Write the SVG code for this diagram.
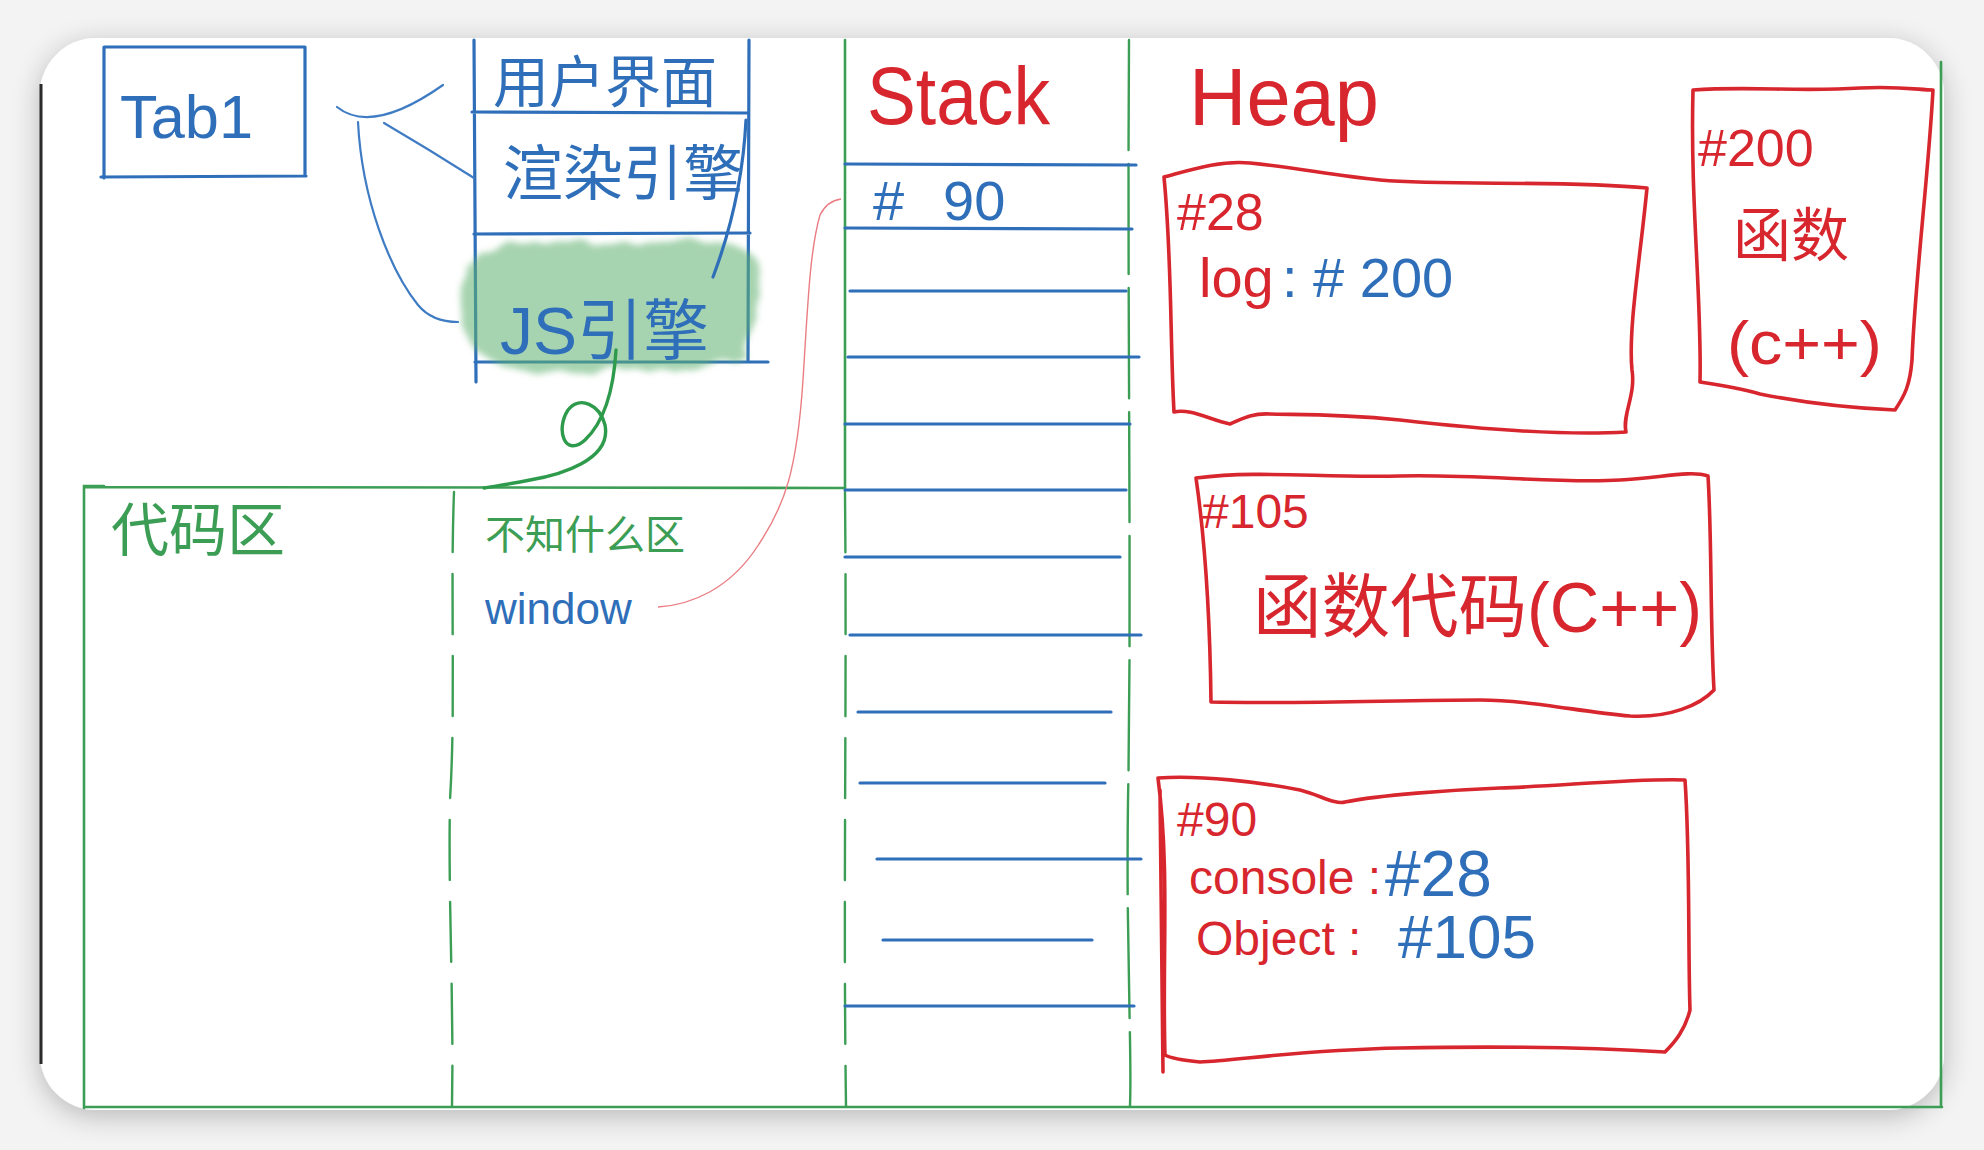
<svg xmlns="http://www.w3.org/2000/svg" width="1984" height="1150" viewBox="0 0 1984 1150">
<defs>
<style>
.b{fill:none;stroke:#2f6fba;stroke-width:3.2;stroke-linecap:round;stroke-linejoin:round}
.bt{fill:none;stroke:#3f7cc4;stroke-width:2.2;stroke-linecap:round}
.r{fill:none;stroke:#d8262e;stroke-width:3.6;stroke-linecap:round;stroke-linejoin:round}
.g{fill:none;stroke:#3c9e55;stroke-width:2.6;stroke-linecap:round}
.gd{fill:none;stroke:#3c9e55;stroke-width:2.4;stroke-dasharray:60 22;stroke-linecap:round}
.lat{font-family:"Liberation Sans","Noto Sans CJK SC",sans-serif}
.cjk{font-family:"Noto Sans CJK SC","Noto Sans",sans-serif}
.tb{fill:#2f6fba}
.tr{fill:#d8262e}
.tg{fill:#3c9e55}
</style>
<filter id="shadow" x="-5%" y="-5%" width="110%" height="115%">
<feGaussianBlur in="SourceAlpha" stdDeviation="14"/>
<feOffset dy="6"/>
<feComponentTransfer><feFuncA type="linear" slope="0.25"/></feComponentTransfer>
<feMerge><feMergeNode/><feMergeNode in="SourceGraphic"/></feMerge>
</filter>
<filter id="blur" x="-10%" y="-10%" width="120%" height="120%">
<feTurbulence type="fractalNoise" baseFrequency="0.03" numOctaves="2" result="n"/>
<feDisplacementMap in="SourceGraphic" in2="n" scale="18" result="d"/>
<feGaussianBlur in="d" stdDeviation="3"/>
</filter>
</defs>

<rect width="1984" height="1150" fill="#f3f3f3"/>
<rect x="40" y="38" width="1904" height="1072" rx="56" fill="#ffffff" filter="url(#shadow)"/>
<line x1="41" y1="84" x2="41" y2="1064" stroke="#2b2b2b" stroke-width="3"/>

<g id="tab1">
<path class="b" d="M104,47 L305,47 M104,47 L104,178 M305,47 L305,176 M101,177 L306,176"/>
<text class="lat tb" x="120" y="138" font-size="62" textLength="133" lengthAdjust="spacingAndGlyphs">Tab1</text>
</g>

<g id="engine-column">
<path class="b" d="M474,40 L476,382 M749,40 L748,360 M472,112 L748,113 M474,234 L750,233 M475,362 L768,362"/>
<path d="M478,250 C520,238 600,245 660,242 C720,240 752,244 756,262 C760,300 752,330 745,355 C720,372 680,370 640,368 C600,372 560,378 520,370 C490,365 465,350 463,320 C460,290 462,262 478,250 Z" fill="#5fb06f" fill-opacity="0.55" filter="url(#blur)"/>
<g id="ui"><text class="cjk tb" x="493" y="102" font-size="56">用户界面</text></g>
<g id="render"><text class="cjk tb" x="503" y="195" font-size="60">渲染引擎</text>
<path class="b" d="M746,120 Q742,200 713,277"/></g>
<g id="js"><text x="500" y="354" font-size="66" class="tb"><tspan class="lat">JS</tspan><tspan class="cjk">引擎</tspan></text></g>
</g>

<g id="code-area">
<path class="g" d="M84,490 L84,1108 M84,487 L845,488 M84,1107 L1942,1107 M84,492 L84,486 L104,486"/>
<path class="gd" d="M454,492 C450,600 456,700 450,800 C448,900 454,1000 452,1106"/>
<text class="cjk tg" x="111" y="551" font-size="58">代码区</text>
<text class="cjk tg" x="485" y="549" font-size="40">不知什么区</text>
<text class="lat tb" x="485" y="624" font-size="44">window</text>
</g>

<g id="stack">
<path class="g" d="M845,40 L845,488"/>
<path class="gd" d="M845,492 C847,700 843,900 846,1106"/>
<path class="gd" style="stroke-dasharray:110 14" d="M1129,40 C1127,300 1132,600 1128,800 C1126,950 1132,1050 1130,1106"/>
<text class="lat tr" x="867" y="124" font-size="82" textLength="183" lengthAdjust="spacingAndGlyphs">Stack</text>
<path class="b" d="M845,164 L1136,165 M845,228 L1132,229 M850,291 L1126,291 M848,357 L1139,357 M845,424 L1130,424 M845,490 L1126,490 M845,557 L1120,557 M850,635 L1141,635 M858,712 L1111,712 M860,783 L1105,783 M877,859 L1141,859 M883,940 L1092,940 M845,1006 L1134,1006"/>
<text class="lat tb" x="873" y="220" font-size="56">#</text>
<text class="lat tb" x="943" y="220" font-size="56">90</text>
</g>

<text class="lat tr" x="1189" y="125" font-size="82" textLength="190" lengthAdjust="spacingAndGlyphs">Heap</text>

<g id="heap-28">
<path class="r" d="M1164,177 C1190,170 1220,160 1250,163 C1300,168 1330,175 1380,180 C1450,186 1560,180 1647,188 C1640,260 1628,330 1632,370 C1636,395 1622,415 1626,432 C1560,436 1470,428 1400,420 C1330,413 1290,415 1270,414 C1250,413 1240,420 1230,424 C1210,420 1190,408 1174,412 C1170,340 1172,260 1164,177 Z"/>
<text class="lat tr" x="1177" y="230" font-size="52">#28</text>
<text class="lat tr" x="1199" y="297" font-size="56">log</text>
<text class="lat tb" x="1282" y="297" font-size="56">: # 200</text>
</g>

<g id="heap-200">
<path class="r" d="M1693,90 C1750,86 1800,92 1860,88 C1900,86 1920,90 1933,90 C1928,180 1915,280 1912,360 C1910,385 1905,395 1895,410 C1850,408 1800,402 1760,394 C1740,388 1720,385 1700,382 C1702,300 1690,200 1693,90 Z"/>
<text class="lat tr" x="1698" y="166" font-size="52">#200</text>
<text class="cjk tr" x="1733" y="256" font-size="58">函数</text>
<text class="lat tr" x="1727" y="364" font-size="62" textLength="155" lengthAdjust="spacingAndGlyphs">(c++)</text>
</g>

<g id="heap-105">
<path class="r" d="M1196,478 C1260,470 1320,478 1400,476 C1480,474 1560,484 1620,480 C1660,478 1690,470 1708,476 C1712,540 1710,620 1714,690 C1700,705 1670,718 1630,716 C1580,712 1530,700 1480,700 C1400,700 1300,704 1211,702 C1210,620 1205,540 1196,478 Z"/>
<text class="lat tr" x="1202" y="528" font-size="48">#105</text>
<text class="tr" x="1253" y="632" font-size="70" textLength="449" lengthAdjust="spacingAndGlyphs"><tspan class="cjk">函数代码</tspan><tspan class="lat">(C++)</tspan></text>
</g>

<g id="heap-90">
<path class="r" d="M1158,778 C1200,775 1260,782 1300,790 C1320,795 1335,805 1345,802 C1380,795 1450,790 1500,788 C1560,786 1640,778 1685,780 C1690,850 1688,950 1690,1010 C1685,1030 1675,1042 1665,1052 C1600,1048 1500,1046 1400,1048 C1300,1050 1240,1060 1200,1062 C1180,1060 1170,1058 1165,1055 C1162,960 1170,870 1158,778 Z M1160,790 L1163,1072"/>
<text class="lat tr" x="1177" y="836" font-size="48">#90</text>
<text class="lat tr" x="1189" y="894" font-size="48">console :</text>
<text class="lat tb" x="1385" y="896" font-size="64">#28</text>
<text class="lat tr" x="1196" y="955" font-size="48">Object :</text>
<text class="lat tb" x="1398" y="958" font-size="62">#105</text>
</g>

<path class="g" d="M1941,62 L1941,1106"/>

<g id="connectors">
<path class="bt" d="M337,107 Q372,135 443,85"/>
<path class="bt" d="M384,123 Q430,150 474,178"/>
<path class="bt" d="M358,122 C362,200 390,270 418,305 Q432,322 458,322"/>
<path fill="none" stroke="#2e9a4c" stroke-width="3.4" stroke-linecap="round" d="M616,350 C614,385 606,420 585,440 C565,458 555,430 568,410 C580,395 600,405 605,425 C612,460 560,475 530,480 C510,484 495,486 484,488"/>
<path fill="none" stroke="#ea7d82" stroke-width="1.4" d="M658,607 C690,605 730,590 759,544 C785,505 797,470 803,380 C808,300 810,250 820,215 C826,203 834,200 841,199"/>
</g>
</svg>
